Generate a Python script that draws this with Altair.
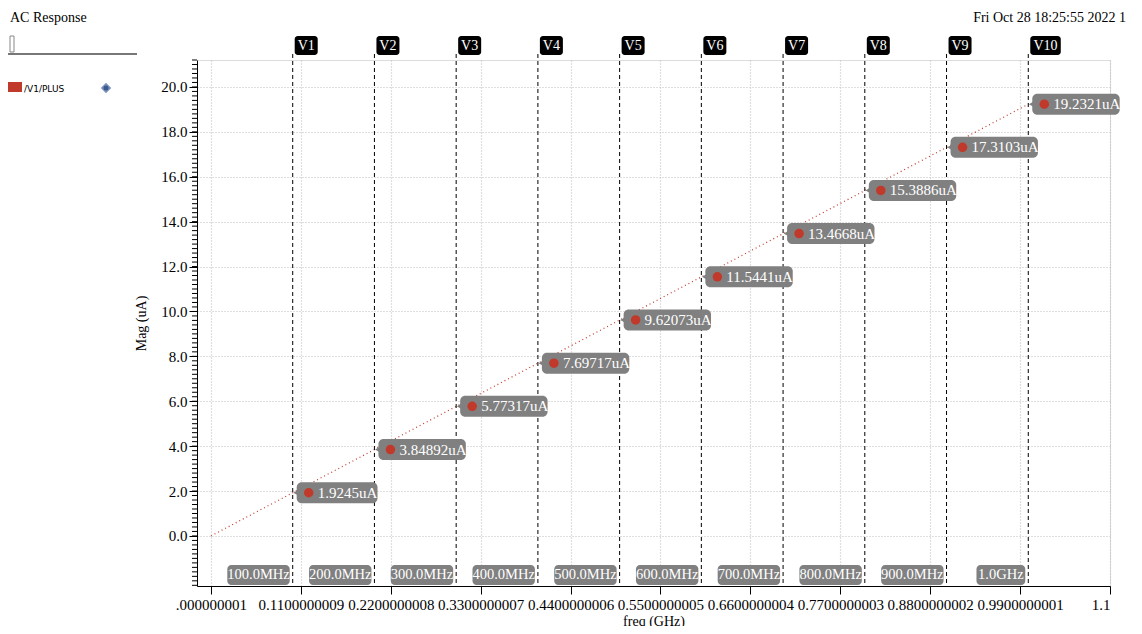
import numpy as np
import altair as alt
import pandas as pd

FONT = "Liberation Serif"

# marker frequencies (GHz) and readouts (uA)
marker_names = ['V1', 'V2', 'V3', 'V4', 'V5', 'V6', 'V7', 'V8', 'V9', 'V10']
marker_freq = [0.1, 0.2, 0.3, 0.4, 0.5, 0.6, 0.7, 0.8, 0.9, 1.0]
marker_mag = [1.9245, 3.84892, 5.77317, 7.69717, 9.62073, 11.5441, 13.4668, 15.3886, 17.3103, 19.2321]
marker_text = ['1.9245uA', '3.84892uA', '5.77317uA', '7.69717uA', '9.62073uA',
               '11.5441uA', '13.4668uA', '15.3886uA', '17.3103uA', '19.2321uA']
freq_text = ['100.0MHz', '200.0MHz', '300.0MHz', '400.0MHz', '500.0MHz',
             '600.0MHz', '700.0MHz', '800.0MHz', '900.0MHz', '1.0GHz']

# trace /V1/PLUS
trace_freq = [0.0, 1.0]
trace_mag = [0.0, 19.2321]

x_tick_labels = ['.000000001', '0.1100000009', '0.2200000008', '0.3300000007', '0.4400000006',
                 '0.5500000005', '0.6600000004', '0.7700000003', '0.8800000002', '0.9900000001', '1.1']
x_ticks = [float(s) for s in x_tick_labels]
y_ticks = [0, 2, 4, 6, 8, 10, 12, 14, 16, 18, 20]
y_minor = [round(v, 1) for v in np.arange(-2.2, 21.3, 0.2)]

W, H = 913, 526
XDOM = (-0.0171, 1.1)
YDOM = (-2.23, 21.2)
PX = W / (XDOM[1] - XDOM[0])

red = '#c0392b'
gray = '#808080'

label_expr = ' : '.join(f"abs(datum.value - {v}) < 1e-6 ? '{s}'" for v, s in zip(x_ticks, x_tick_labels)) + " : ''"
xs = alt.Scale(domain=XDOM, nice=False, zero=False)
ys = alt.Scale(domain=YDOM, nice=False, zero=False)

mk = pd.DataFrame({'name': marker_names, 'f': marker_freq, 'mag': marker_mag,
                   'txt': marker_text, 'ftxt': freq_text})
# box extents from label length
mk['b0'] = mk['f'] + 4 / PX
mk['b1'] = mk['f'] + (4 + 28 + 6.6 * mk['txt'].str.len()) / PX
mk['fb1'] = mk['f'] - 3 / PX
mk['fb0'] = mk['f'] - (3 + 8 + 6.8 * mk['ftxt'].str.len()) / PX
mk['fc'] = (mk['fb0'] + mk['fb1']) / 2
mk['vb0'] = mk['f'] + 2 / PX
mk['vb1'] = mk['f'] + (2 + 8 + 7.5 * mk['name'].str.len()) / PX
mk['vc'] = (mk['vb0'] + mk['vb1']) / 2

X = lambda f: alt.X(f, type='quantitative', scale=xs)
Y = lambda f: alt.Y(f, type='quantitative', scale=ys)

trace = alt.Chart(pd.DataFrame({'f': trace_freq, 'mag': trace_mag})).mark_line(
    color=red, strokeDash=[1, 3], strokeWidth=1.2
).encode(
    x=alt.X('f:Q', scale=xs, title='freq (GHz)',
            axis=alt.Axis(values=x_ticks, labelExpr=label_expr, grid=True, gridDash=[1, 2],
                          gridColor='#c0c0c0', gridWidth=1.2, tickSize=8, tickColor='black', domainColor='black',
                          labelFont=FONT, labelFontSize=15, labelColor='black', titleFont=FONT,
                          titleFontSize=14, titleFontWeight='normal', titleColor='black', labelPadding=3,
                          titlePadding=2)),
    y=alt.Y('mag:Q', scale=ys, title='Mag (uA)',
            axis=alt.Axis(values=y_ticks, format='.1f', grid=True, gridDash=[1, 2], gridColor='#c0c0c0',
                          gridWidth=1.2, tickSize=8, tickColor='black', domainColor='black', labelFont=FONT,
                          labelFontSize=15, labelColor='black', titleFont=FONT, titleFontSize=14,
                          titleFontWeight='normal', titleColor='black', titlePadding=12))
)

minor = alt.Chart(pd.DataFrame({'v': y_minor})).mark_rule(color='black', strokeWidth=1, clip=False).encode(
    x=alt.value(-5), x2=alt.value(0), y=Y('v'))

rules = alt.Chart(mk).mark_rule(color='black', strokeDash=[4, 3], strokeWidth=1).encode(
    x=X('f'), y=alt.value(-6), y2=alt.value(H))

# top marker name boxes
vbox = alt.Chart(mk).mark_rect(color='black', cornerRadius=3).encode(
    x=X('vb0'), x2='vb1', y=alt.value(-24), y2=alt.value(-5))
vtxt = alt.Chart(mk).mark_text(color='white', font=FONT, fontSize=14).encode(
    x=X('vc'), y=alt.value(-14), text='name')

# bottom frequency boxes
fbox = alt.Chart(mk).mark_rect(color=gray, cornerRadius=4).encode(
    x=X('fb0'), x2='fb1', y=alt.value(505), y2=alt.value(525))
ftxt = alt.Chart(mk).mark_text(color='white', font=FONT, fontSize=14.5).encode(
    x=X('fc'), y=alt.value(515), text='ftxt')

# readout boxes
rbox = alt.Chart(mk).mark_rect(color=gray, cornerRadius=5, height=21).encode(
    x=X('b0'), x2='b1', y=Y('mag'))
rtri = alt.Chart(mk).mark_point(shape='triangle-left', filled=True, color=gray, opacity=1,
                                size=60, xOffset=4).encode(x=X('f'), y=Y('mag'))
rdot = alt.Chart(mk).mark_circle(color=red, size=90, opacity=1, xOffset=16).encode(x=X('f'), y=Y('mag'))
rtxt = alt.Chart(mk).mark_text(color='white', font=FONT, fontSize=15, align='left', dx=25).encode(
    x=X('f'), y=Y('mag'), text='txt')

# header and legend
hdr = pd.DataFrame({'t': ['AC Response', 'Fri Oct 28 18:25:55 2022   1']})
title_l = alt.Chart(hdr.iloc[[0]]).mark_text(font=FONT, fontSize=14, align='left', color='black').encode(
    x=alt.value(-187), y=alt.value(-42), text='t')
title_r = alt.Chart(hdr.iloc[[1]]).mark_text(font=FONT, fontSize=14, align='right', color='black').encode(
    x=alt.value(W + 16), y=alt.value(-42), text='t')
slider = alt.Chart(hdr.iloc[[0]]).mark_rule(color='#777777', strokeWidth=2).encode(
    x=alt.value(-189), x2=alt.value(-60), y=alt.value(-6))
knob = alt.Chart(hdr.iloc[[0]]).mark_rect(fill='white', stroke='#888888').encode(
    x=alt.value(-187), x2=alt.value(-183), y=alt.value(-24), y2=alt.value(-8))
leg_sw = alt.Chart(hdr.iloc[[0]]).mark_rect(color=red).encode(
    x=alt.value(-190), x2=alt.value(-175), y=alt.value(22), y2=alt.value(32))
leg_tx = alt.Chart(pd.DataFrame({'t': ['/V1/PLUS']})).mark_text(
    font='DejaVu Sans', fontSize=9, align='left', color='black').encode(
    x=alt.value(-173), y=alt.value(29), text='t')
eye_out = alt.Chart(hdr.iloc[[0]]).mark_point(shape='diamond', filled=True, color='#7a93bf', size=110,
                                               opacity=1).encode(x=alt.value(-91), y=alt.value(28))
eye = alt.Chart(hdr.iloc[[0]]).mark_point(shape='circle', filled=True, color='#3d5a8a', size=25,
                                           opacity=1).encode(x=alt.value(-91), y=alt.value(28))

chart = alt.layer(
    trace, minor, rules, vbox, vtxt, fbox, ftxt, rbox, rtri, rdot, rtxt,
    title_l, title_r, slider, knob, leg_sw, leg_tx, eye_out, eye
).properties(
    width=W, height=H,
    autosize=alt.AutoSizeParams(type='none'),
    padding={'left': 189, 'top': 52, 'right': 24, 'bottom': 40}
).configure_view(stroke=None).configure(background='white')

chart.save("out.html", embed_options={"renderer": "svg", "actions": False})
